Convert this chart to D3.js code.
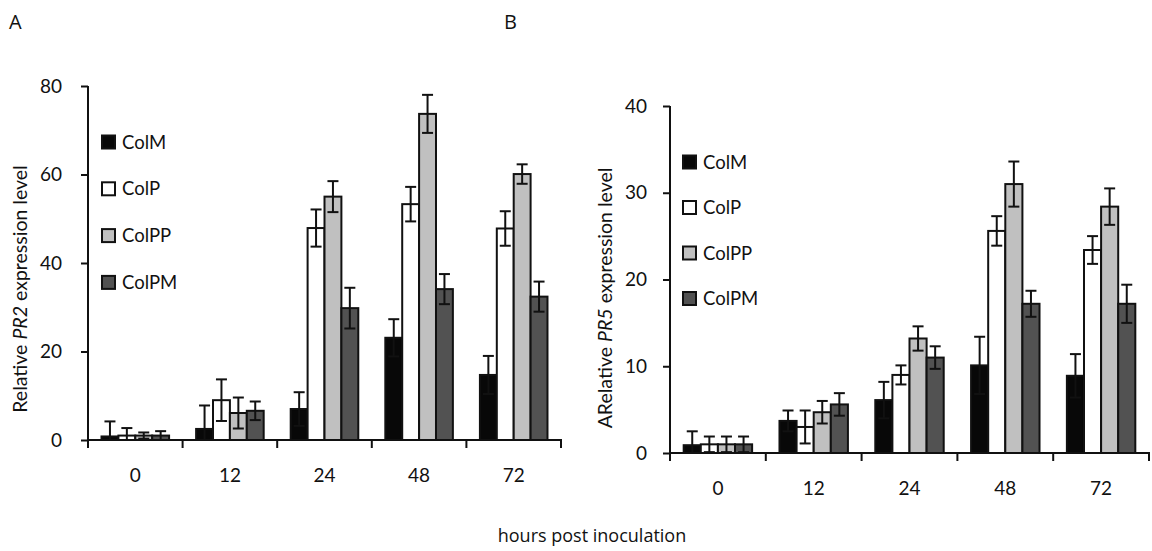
<!DOCTYPE html>
<html>
<head>
<meta charset="utf-8">
<script src="https://cdn.jsdelivr.net/npm/d3@7"></script>
<style>
  body { margin: 0; background: #fff; }
  text { font-family: Lato, "Open Sans", sans-serif; fill: #111; }
</style>
</head>
<body>
<svg id="chart" width="1152" height="551"></svg>
<script>
// categories + series
var hours = ["0", "12", "24", "48", "72"];
var lines = ["ColM", "ColP", "ColPP", "ColPM"];
var fills = ["#080808", "#ffffff", "#c0c0c0", "#525252"];

// panel A - PR2 means and error
var pr2ColM  = [0.8, 2.5, 7.0, 23.1, 14.7];
var pr2ColP  = [1.0, 9.0, 47.9, 53.3, 47.8];
var pr2ColPP = [1.0, 6.1, 55.0, 73.7, 60.1];
var pr2ColPM = [1.0, 6.6, 29.8, 34.1, 32.4];
var pr2ErrColM  = [3.4, 5.3, 3.8, 4.2, 4.3];
var pr2ErrColP  = [1.7, 4.7, 4.2, 3.9, 3.9];
var pr2ErrColPP = [0.7, 3.5, 3.5, 4.3, 2.2];
var pr2ErrColPM = [1.0, 2.1, 4.6, 3.4, 3.4];
var pr2Ticks = [0, 20, 40, 60, 80];

// panel B - PR5 means and error
var pr5ColM  = [0.9, 3.7, 6.1, 10.1, 8.9];
var pr5ColP  = [1.0, 3.0, 9.0, 25.6, 23.4];
var pr5ColPP = [1.0, 4.7, 13.2, 31.0, 28.4];
var pr5ColPM = [1.0, 5.6, 11.0, 17.2, 17.2];
var pr5ErrColM  = [1.6, 1.2, 2.1, 3.3, 2.5];
var pr5ErrColP  = [0.9, 1.9, 1.1, 1.7, 1.6];
var pr5ErrColPP = [0.9, 1.3, 1.4, 2.6, 2.1];
var pr5ErrColPM = [0.9, 1.3, 1.3, 1.5, 2.2];
var pr5Ticks = [0, 10, 20, 30, 40];

var svg = d3.select("#chart");

function drawPanel(p) {
    var g = svg.append("g");

    var x = d3.scaleBand().domain(hours).range([p.x0, p.x1]);
    var inner = d3.scaleBand().domain(lines)
        .range([0, x.bandwidth()]).paddingOuter(0.8).paddingInner(0);
    var y = d3.scaleLinear().domain([0, p.max]).range([p.y0, p.y1]);

    // rows of data
    var rows = [];
    lines.forEach(function(s, si) {
        hours.forEach(function(h, hi) {
            rows.push({ s: s, h: h, v: p.means[si][hi], e: p.errs[si][hi], c: fills[si] });
        });
    });

    g.selectAll("rect.bar")
        .data(rows)
        .enter().append("rect")
        .attr("class", "bar")
        .attr("x", function(d) { return x(d.h) + inner(d.s); })
        .attr("width", inner.bandwidth())
        .attr("y", function(d) { return y(d.v); })
        .attr("height", function(d) { return y(0) - y(d.v); })
        .style("fill", function(d) { return d.c; })
        .style("stroke", "#111")
        .style("stroke-width", "2px");

    // error bars
    var eb = g.selectAll("g.err")
        .data(rows)
        .enter().append("g")
        .attr("class", "err")
        .attr("transform", function(d) {
            return "translate(" + (x(d.h) + inner(d.s) + inner.bandwidth() / 2) + ",0)";
        })
        .style("stroke", "#111")
        .style("stroke-width", "2px");
    eb.append("line")
        .attr("y1", function(d) { return y(d.v + d.e); })
        .attr("y2", function(d) { return y(Math.max(0, d.v - d.e)); });
    eb.append("line")
        .attr("x1", -5.5).attr("x2", 5.5)
        .attr("y1", function(d) { return y(d.v + d.e); })
        .attr("y2", function(d) { return y(d.v + d.e); });
    eb.filter(function(d) { return d.v - d.e > 0; })
        .append("line")
        .attr("x1", -5.5).attr("x2", 5.5)
        .attr("y1", function(d) { return y(d.v - d.e); })
        .attr("y2", function(d) { return y(d.v - d.e); });

    // y axis
    var ya = g.append("g")
        .attr("transform", "translate(" + p.x0 + ",0)")
        .call(d3.axisLeft(y).tickValues(p.ticks).tickSize(7).tickSizeOuter(0).tickPadding(p.tickPad));
    // x axis, ticks on the category boundaries
    var xa = g.append("g")
        .attr("transform", "translate(0," + p.y0 + ")")
        .call(d3.axisBottom(x).tickSize(0).tickPadding(29));
    xa.selectAll(".tick").append("line")
        .attr("x1", x.bandwidth() / 2).attr("x2", x.bandwidth() / 2)
        .attr("y2", 8);
    xa.append("line")
        .attr("x1", p.x0).attr("x2", p.x0).attr("y2", 8);

    [ya, xa].forEach(function(a) {
        a.selectAll("path, line").style("stroke", "#111").style("stroke-width", "2px");
        a.selectAll("text").style("font-size", "19px").style("font-family", "Lato").style("fill", "#111");
    });
    xa.select(".domain").attr("d", "M" + (p.x0 - 1) + ",0H" + (p.x1 + 1));
    ya.select(".domain").attr("d", "M0," + (p.y0 + 1) + "V" + p.y1);

    // y label
    var yl = g.append("text")
        .attr("transform", "translate(" + p.labelX + "," + p.labelY + ") rotate(-90)")
        .attr("text-anchor", "middle")
        .attr("dy", "0.35em")
        .style("font-size", "19.5px");
    yl.append("tspan").text(p.labelPre);
    yl.append("tspan").style("font-style", "italic").text(p.gene);
    yl.append("tspan").text(" expression level");

    // legend
    var lg = g.selectAll("g.leg")
        .data(lines)
        .enter().append("g")
        .attr("class", "leg")
        .attr("transform", function(d, i) {
            return "translate(" + p.legX + "," + (p.legY + i * p.legStep) + ")";
        });
    lg.append("rect")
        .attr("x", 1).attr("y", -6.5)
        .attr("width", 13).attr("height", 13)
        .style("fill", function(d, i) { return fills[i]; })
        .style("stroke", "#111")
        .style("stroke-width", "2px");
    lg.append("text")
        .attr("x", 21)
        .attr("dy", "0.36em")
        .style("font-size", "18.5px")
        .text(function(d) { return d; });

    // panel letter
    g.append("text")
        .attr("x", p.letterX).attr("y", 29)
        .style("font-family", "'Open Sans'")
        .style("font-size", "20px")
        .text(p.letter);
}

drawPanel({
    letter: "A", letterX: 9, tickPad: 19,
    x0: 88, x1: 561, y0: 440, y1: 86, max: 80, ticks: pr2Ticks,
    means: [pr2ColM, pr2ColP, pr2ColPP, pr2ColPM],
    errs: [pr2ErrColM, pr2ErrColP, pr2ErrColPP, pr2ErrColPM],
    labelX: 20, labelY: 289, labelPre: "Relative ", gene: "PR2",
    legX: 101, legY: 142, legStep: 46.8
});

drawPanel({
    letter: "B", letterX: 504, tickPad: 16,
    x0: 670, x1: 1149, y0: 453, y1: 106, max: 40, ticks: pr5Ticks,
    means: [pr5ColM, pr5ColP, pr5ColPP, pr5ColPM],
    errs: [pr5ErrColM, pr5ErrColP, pr5ErrColPP, pr5ErrColPM],
    labelX: 605, labelY: 298, labelPre: "ARelative ", gene: "PR5",
    legX: 682, legY: 162, legStep: 45.5
});

// shared x label
svg.append("text")
    .attr("x", 592).attr("y", 542)
    .attr("text-anchor", "middle")
    .style("font-family", "'Open Sans'")
    .style("font-size", "18px")
    .text("hours post inoculation");
</script>
</body>
</html>
